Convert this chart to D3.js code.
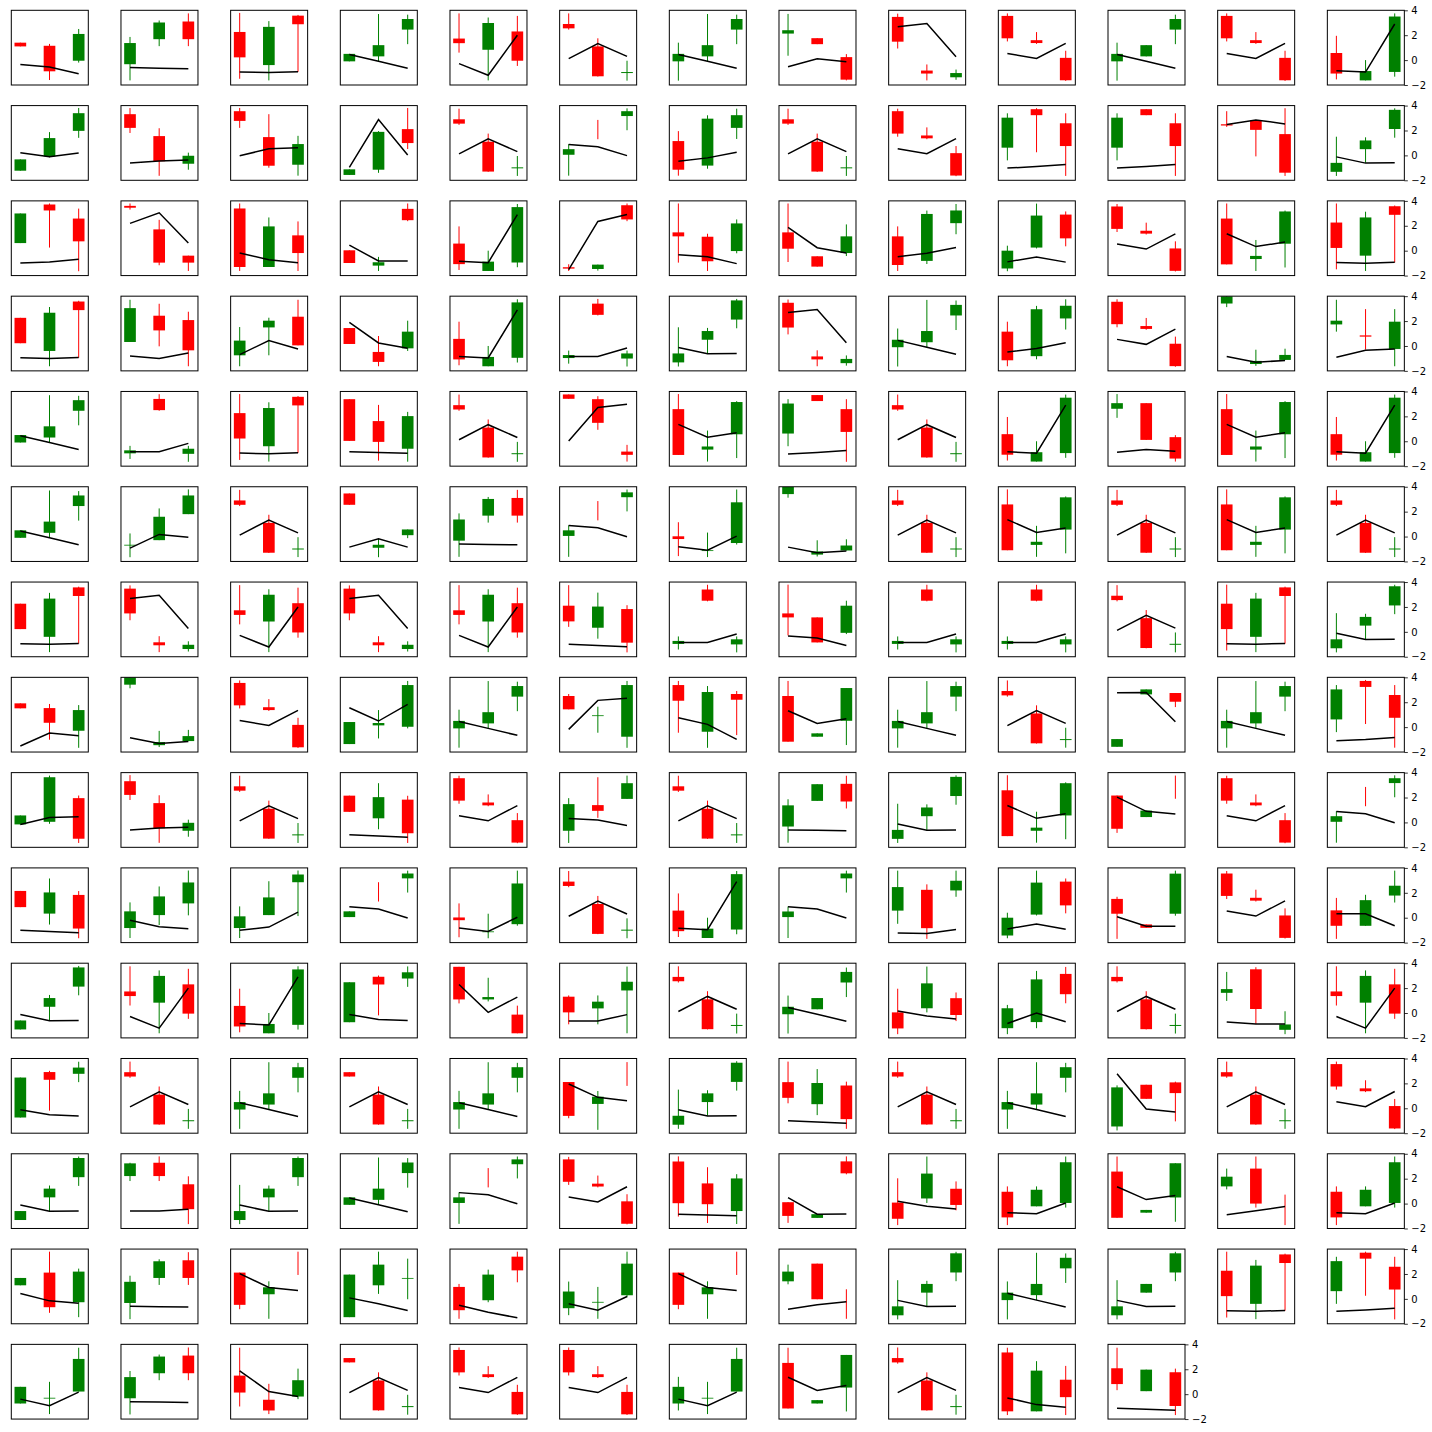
<!DOCTYPE html>
<html><head><meta charset="utf-8">
<script src="https://cdnjs.cloudflare.com/ajax/libs/d3/7.8.5/d3.min.js"></script>
<style>html,body{margin:0;padding:0;background:#fff;} svg{display:block;}</style>
</head><body>
<script>
// Each entry: [open, high, low, close] for candle at x=0,1,2 of each small panel (row-major, 13 per row)
const candle1 = [
[1.4,1.4,1.1,1.1],[-0.33,1.86,-1.63,1.37],[2.26,3.79,-1.5,0.22],[-0.1,0.5,-0.1,0.5],[1.73,3.75,0.6,1.36],[2.9,3.75,2.45,2.55],[-0.1,1.4,-1.65,0.5],[2.13,3.71,0.35,2.4],[3.47,3.73,0.93,1.48],[3.55,3.75,1.5,1.75],[-0.1,1.4,-1.65,0.5],[3.55,3.75,1.5,1.75],[0.57,1.95,-1.55,-1.08],
[-1.23,-0.32,-1.23,-0.32],[3.31,3.8,1.8,2.21],[3.55,3.81,2.21,2.77],[-1.57,-1.12,-1.57,-1.12],[2.9,3.75,2.45,2.55],[0.05,0.9,-1.63,0.5],[1.15,1.95,-1.63,-1.15],[2.9,3.75,2.45,2.55],[3.55,3.75,1.5,1.75],[0.62,3.38,-0.4,3.03],[0.62,3.38,-0.4,3.03],[2.5,3.55,2.29,2.4],[-1.32,1.5,-1.65,-0.6],
[0.61,2.99,0.61,2.99],[3.6,3.79,3.3,3.45],[3.39,3.79,-1.63,-1.31],[0.03,0.03,-0.99,-0.99],[0.57,1.95,-1.55,-1.08],[-1.33,-1.09,-1.63,-1.44],[1.47,3.79,-0.96,1.15],[1.47,3.79,-0.91,0.16],[1.15,1.95,-1.63,-1.15],[-1.43,0.4,-1.65,0.0],[3.55,3.75,1.5,1.75],[2.58,3.79,-1.1,-1.1],[2.26,3.79,-1.5,0.22],
[2.26,2.26,0.22,0.22],[0.32,3.71,0.32,3.04],[-0.75,1.52,-1.63,0.43],[1.44,1.44,0.16,0.16],[0.57,1.95,-1.55,-1.08],[-0.97,-0.37,-1.42,-0.73],[-1.32,1.5,-1.65,-0.6],[3.47,3.73,0.93,1.48],[-0.1,1.4,-1.65,0.5],[1.15,1.95,-1.63,-1.15],[3.55,3.75,1.5,1.75],[3.41,4.0,3.12,4.0],[1.73,3.71,1.15,2.03],
[-0.1,0.5,-0.1,0.5],[-0.97,-0.37,-1.42,-0.73],[2.26,3.79,-1.5,0.22],[3.38,3.38,0.03,0.03],[2.9,3.75,2.45,2.55],[3.76,3.76,3.41,3.41],[2.58,3.79,-1.1,-1.1],[0.62,3.38,-0.4,3.03],[2.9,3.75,2.45,2.55],[0.57,1.95,-1.55,-1.08],[2.61,3.79,1.88,3.06],[2.58,3.79,-1.1,-1.1],[0.57,1.95,-1.55,-1.08],
[-0.1,0.5,-0.1,0.5],[-0.72,0.25,-1.66,-0.66],[2.9,3.75,2.45,2.55],[3.46,3.46,2.55,2.55],[-0.33,1.86,-1.63,1.37],[0.05,0.9,-1.63,0.5],[0.02,1.15,-1.57,-0.2],[3.41,4.0,3.12,4.0],[2.9,3.75,2.45,2.55],[2.58,3.79,-1.1,-1.1],[2.9,3.75,2.45,2.55],[2.58,3.79,-1.1,-1.1],[2.9,3.75,2.45,2.55],
[2.26,2.26,0.22,0.22],[3.47,3.73,0.93,1.48],[1.73,3.75,0.6,1.36],[3.47,3.73,0.93,1.48],[1.73,3.75,0.6,1.36],[2.1,3.75,0.4,0.84],[-0.97,-0.37,-1.42,-0.73],[1.48,3.79,-0.29,1.16],[-0.97,-0.37,-1.42,-0.73],[-0.97,-0.37,-1.42,-0.73],[2.9,3.75,2.45,2.55],[2.26,3.79,-1.5,0.22],[-1.32,1.5,-1.65,-0.6],
[1.91,1.91,1.51,1.51],[3.41,4.0,3.12,4.0],[3.55,3.75,1.5,1.75],[-1.36,0.41,-1.36,0.41],[-0.1,1.4,-1.65,0.5],[2.5,2.66,1.43,1.43],[3.38,3.71,-0.45,2.12],[2.5,3.71,-1.17,-1.17],[-0.1,1.4,-1.65,0.5],[2.9,3.75,2.45,2.55],[-1.58,-0.96,-1.58,-0.96],[-0.1,1.4,-1.65,0.5],[0.62,3.38,-0.4,3.03],
[-0.16,0.56,-0.16,0.56],[3.31,3.8,1.8,2.21],[2.9,3.75,2.45,2.55],[2.15,2.15,0.85,0.85],[3.55,3.75,1.5,1.75],[-0.67,1.95,-1.65,1.47],[2.9,3.75,2.45,2.55],[-0.33,1.86,-1.63,1.37],[-1.32,1.5,-1.65,-0.6],[2.58,3.79,-1.1,-1.1],[2.16,2.16,-0.84,-0.51],[3.55,3.75,1.5,1.75],[0.05,0.9,-1.63,0.5],
[2.15,2.15,0.85,0.85],[-0.83,1.23,-1.63,0.51],[-0.83,0.91,-1.63,0.11],[0.05,0.51,0.05,0.51],[0.02,1.15,-1.57,-0.2],[2.9,3.75,2.45,2.55],[0.57,1.95,-1.55,-1.08],[0.05,0.9,-1.63,0.5],[0.57,3.78,-0.49,2.46],[-1.43,0.4,-1.65,0.0],[1.51,1.68,-1.7,0.32],[3.55,3.75,1.5,1.75],[0.59,1.59,-1.7,-0.65],
[-1.32,-0.6,-1.32,-0.6],[1.73,3.75,0.6,1.36],[0.57,1.95,-1.55,-1.08],[-0.74,2.47,-0.74,2.47],[3.71,3.71,0.77,1.09],[1.31,1.41,-0.91,0.05],[2.9,3.75,2.45,2.55],[-0.1,1.4,-1.65,0.5],[0.05,1.95,-1.7,-1.24],[-1.22,0.65,-1.7,0.38],[2.9,3.75,2.45,2.55],[1.62,3.3,0.97,1.92],[1.73,3.75,0.6,1.36],
[-0.74,2.47,-0.74,2.47],[2.9,3.75,2.45,2.55],[-0.1,1.4,-1.65,0.5],[2.9,2.9,2.55,2.55],[-0.1,1.4,-1.65,0.5],[2.11,2.11,-0.8,-0.61],[-1.32,1.5,-1.65,-0.6],[2.1,3.75,0.4,0.84],[2.9,3.75,2.45,2.55],[-0.1,1.4,-1.65,0.5],[-1.46,1.84,-1.78,1.68],[2.9,3.75,2.45,2.55],[3.55,3.75,1.5,1.75],
[-1.32,-0.6,-1.32,-0.6],[2.21,3.28,1.81,3.23],[-1.32,1.5,-1.65,-0.6],[-0.1,0.5,-0.1,0.5],[0.05,0.9,-1.63,0.5],[3.55,3.75,1.5,1.75],[3.38,3.79,-1.04,0.03],[0.11,0.11,-1.55,-0.99],[0.08,2.03,-1.73,-1.22],[0.95,1.38,-1.73,-1.11],[2.57,3.78,-1.14,-1.14],[1.38,2.81,1.14,2.16],[0.95,1.38,-1.73,-1.11],
[1.09,1.68,1.09,1.68],[-0.33,1.86,-1.63,1.37],[2.11,2.11,-0.83,-0.48],[-1.47,1.95,-1.47,1.95],[0.96,1.2,-1.6,-0.91],[-0.75,1.39,-1.31,0.59],[2.11,2.11,-0.83,-0.48],[1.41,2.75,1.17,2.19],[-1.32,1.5,-1.65,-0.6],[-0.1,1.4,-1.65,0.5],[-1.32,1.5,-1.65,-0.6],[2.26,3.79,-1.5,0.22],[0.62,3.38,-0.4,3.03],
[-0.75,0.59,-0.75,0.59],[-0.33,1.86,-1.63,1.37],[1.49,3.73,-0.99,0.13],[2.9,2.9,2.55,2.55],[3.55,3.75,1.5,1.75],[3.55,3.75,1.5,1.75],[-0.75,1.39,-1.31,0.59],[2.51,3.73,-1.15,-1.15],[2.9,3.75,2.45,2.55],[3.35,3.73,-1.68,-1.38],[2.08,3.73,0.32,0.81]
];
const candle2 = [
[1.15,1.3,-1.6,-0.9],[1.68,3.18,1.12,3.02],[-0.4,3.13,-1.63,2.67],[0.3,3.7,-0.1,1.2],[0.83,3.42,-1.63,2.98],[1.1,1.75,-1.32,-1.3],[0.3,3.7,-0.1,1.2],[1.76,1.76,1.28,1.28],[-0.84,-0.35,-1.63,-1.08],[1.6,2.25,1.3,1.37],[0.3,1.2,0.3,1.2],[1.6,2.25,1.3,1.37],[-1.63,0.0,-1.63,-0.88],
[-0.08,1.87,-0.16,1.39],[1.55,2.18,-1.64,-0.47],[1.47,3.31,-0.99,-0.83],[-1.15,1.95,-1.4,1.89],[1.1,1.75,-1.32,-1.3],[2.0,2.85,1.3,2.0],[-0.82,3.22,-1.07,2.95],[1.1,1.75,-1.32,-1.3],[1.6,2.25,1.3,1.37],[3.71,3.79,0.25,3.23],[3.71,3.71,3.23,3.23],[2.8,2.8,-0.08,2.05],[0.5,1.45,-0.6,1.2],
[3.71,3.79,0.25,3.23],[1.71,2.48,-1.17,-0.96],[-1.31,2.67,-1.31,1.95],[-1.2,-0.5,-1.63,-0.93],[-1.63,0.0,-1.63,-0.88],[-1.47,-1.12,-1.6,-1.12],[1.12,1.36,-1.63,-0.85],[-0.45,-0.45,-1.28,-1.28],[-0.82,3.22,-1.07,2.95],[0.25,3.78,0.18,2.82],[1.6,2.25,1.3,1.37],[-0.67,0.86,-1.63,-0.42],[-0.4,3.13,-1.63,2.67],
[-0.4,3.13,-1.63,2.67],[2.43,3.39,-0.03,1.25],[1.49,2.27,-0.75,2.03],[-0.48,0.8,-1.63,-1.28],[-1.63,0.0,-1.63,-0.88],[3.4,3.78,2.45,2.5],[0.5,1.45,-0.6,1.2],[-0.84,-0.35,-1.63,-1.08],[0.3,3.7,-0.1,1.2],[-0.82,3.22,-1.07,2.95],[1.6,2.25,1.3,1.37],[-1.45,-0.3,-1.6,-1.2],[0.85,2.96,-0.29,0.75],
[0.3,3.7,-0.1,1.2],[3.4,3.78,2.45,2.5],[-0.4,3.13,-1.63,2.67],[1.62,2.92,-1.56,-0.05],[1.1,1.75,-1.32,-1.3],[3.38,3.62,0.92,1.48],[-0.67,0.86,-1.63,-0.42],[3.71,3.71,3.23,3.23],[1.1,1.75,-1.32,-1.3],[-1.63,0.0,-1.63,-0.88],[3.06,3.06,0.11,0.11],[-0.67,0.86,-1.63,-0.42],[-1.63,0.0,-1.63,-0.88],
[0.3,3.7,-0.1,1.2],[-0.29,2.26,-0.29,1.59],[1.1,1.75,-1.32,-1.3],[-0.9,-0.18,-1.66,-0.66],[1.68,3.18,1.12,3.02],[2.0,2.85,1.3,2.0],[-1.13,0.32,-1.65,-1.1],[-1.45,-0.3,-1.6,-1.2],[1.1,1.75,-1.32,-1.3],[-0.67,0.86,-1.63,-0.42],[1.1,1.75,-1.32,-1.3],[-0.67,0.86,-1.63,-0.42],[1.1,1.75,-1.32,-1.3],
[-0.4,3.13,-1.63,2.67],[-0.84,-0.35,-1.63,-1.08],[0.83,3.42,-1.63,2.98],[-0.84,-0.35,-1.63,-1.08],[0.83,3.42,-1.63,2.98],[0.33,3.15,-0.55,2.03],[3.4,3.78,2.45,2.5],[1.16,1.16,-0.85,-0.85],[3.4,3.78,2.45,2.5],[3.4,3.78,2.45,2.5],[1.1,1.75,-1.32,-1.3],[-0.4,3.13,-1.63,2.67],[0.5,1.45,-0.6,1.2],
[1.53,1.86,-1.01,0.35],[-1.45,-0.3,-1.6,-1.2],[1.6,2.25,1.3,1.37],[0.14,1.37,-0.91,0.33],[0.3,3.7,-0.1,1.2],[0.89,1.64,-0.45,0.95],[-0.37,3.3,-1.66,2.82],[-0.77,-0.5,-0.77,-0.5],[0.3,3.7,-0.1,1.2],[1.1,1.75,-1.32,-1.3],[2.63,3.03,2.63,3.03],[0.3,3.7,-0.1,1.2],[3.71,3.79,0.25,3.23],
[0.05,3.76,-0.11,3.63],[1.55,2.18,-1.64,-0.47],[1.1,1.75,-1.32,-1.3],[0.33,3.15,-0.55,2.03],[1.6,2.25,1.3,1.37],[1.39,3.63,0.37,0.93],[1.1,1.75,-1.32,-1.3],[1.73,3.07,1.73,3.07],[0.5,1.45,-0.6,1.2],[-0.67,0.86,-1.63,-0.42],[0.43,0.95,0.43,0.95],[1.6,2.25,1.3,1.37],[2.0,2.85,1.3,2.0],
[0.33,3.15,-0.55,2.03],[0.21,2.51,-0.59,1.71],[0.21,2.93,0.21,1.63],[2.0,2.85,1.3,2.0],[-1.13,0.32,-1.65,-1.1],[1.1,1.75,-1.32,-1.3],[-1.63,0.0,-1.63,-0.88],[0.67,0.67,0.67,0.67],[2.24,2.68,-1.7,-0.84],[0.25,3.78,0.18,2.82],[-0.54,-0.54,-0.81,-0.81],[1.6,2.25,1.3,1.37],[-0.65,1.84,-0.65,1.41],
[0.5,1.45,-0.6,1.2],[0.83,3.42,-1.63,2.98],[-1.63,0.0,-1.63,-0.88],[2.91,3.01,-0.19,2.29],[1.09,2.83,0.93,1.28],[0.37,1.41,-0.91,0.91],[1.1,1.75,-1.32,-1.3],[0.3,1.2,0.3,1.2],[0.38,3.73,0.05,2.38],[-0.73,3.38,-1.22,2.7],[1.1,1.75,-1.32,-1.3],[3.51,3.68,-0.89,0.32],[0.83,3.42,-1.63,2.98],
[2.91,3.01,-0.19,2.29],[1.1,1.75,-1.32,-1.3],[0.3,3.7,-0.1,1.2],[1.1,1.75,-1.32,-1.3],[0.3,3.7,-0.1,1.2],[0.35,1.39,-1.73,0.93],[0.5,1.45,-0.6,1.2],[0.33,3.15,-0.55,2.03],[1.1,1.75,-1.32,-1.3],[0.3,3.7,-0.1,1.2],[1.89,1.89,0.76,0.76],[1.1,1.75,-1.32,-1.3],[1.6,2.25,1.3,1.37],
[0.5,1.45,-0.6,1.2],[3.28,3.79,1.81,2.21],[0.5,1.45,-0.6,1.2],[0.3,3.7,-0.1,1.2],[2.0,2.85,1.3,2.0],[1.6,2.25,1.3,1.37],[1.62,2.92,-1.56,-0.05],[-1.15,-0.85,-1.15,-0.85],[0.41,3.78,0.05,2.41],[-0.22,1.38,-0.22,1.11],[-0.73,-0.51,-0.73,-0.51],[2.81,3.78,-0.32,0.0],[-0.22,1.38,-0.22,1.11],
[2.11,3.79,-1.12,-0.67],[1.68,3.18,1.12,3.02],[0.37,1.41,-1.6,0.93],[1.09,3.79,0.4,2.75],[-0.11,2.35,-0.27,1.95],[-0.3,0.96,-1.6,-0.24],[0.37,1.41,-1.6,0.93],[2.83,2.83,-0.03,-0.03],[0.5,1.45,-0.6,1.2],[0.3,3.7,-0.1,1.2],[0.5,1.2,0.5,1.2],[-0.4,3.13,-1.63,2.67],[3.71,3.79,0.25,3.23],
[-0.35,0.99,-1.6,-0.29],[1.68,3.18,1.12,3.02],[-0.45,0.83,-1.6,-1.31],[1.1,1.75,-1.32,-1.3],[1.6,2.25,1.3,1.37],[1.6,2.25,1.3,1.37],[-0.35,0.99,-1.6,-0.29],[-0.75,-0.48,-0.75,-0.48],[1.1,1.75,-1.32,-1.3],[-1.38,2.65,-1.38,1.89],[0.24,1.97,0.24,1.97]
];
const candle3 = [
[-0.05,2.5,-0.2,2.1],[3.1,3.75,1.12,1.68],[3.57,3.63,-0.95,2.88],[2.45,3.65,1.28,3.3],[2.3,3.55,-0.47,-0.05],[-1.04,-0.05,-1.65,-0.96],[2.45,3.65,1.28,3.3],[0.24,0.48,-1.63,-1.57],[-1.38,-0.76,-1.58,-1.04],[0.18,0.75,-1.67,-1.62],[2.45,3.65,1.28,3.3],[0.18,0.75,-1.67,-1.62],[-0.95,3.75,-1.33,3.5],
[1.97,3.81,1.41,3.39],[-0.67,0.22,-1.15,-0.03],[-0.75,1.57,-1.63,0.91],[2.11,3.81,0.51,0.99],[-1.04,-0.05,-1.65,-0.96],[3.16,3.78,2.02,3.55],[2.21,3.75,1.32,3.23],[-1.04,-0.05,-1.65,-0.96],[0.18,0.75,-1.67,-1.62],[2.58,3.38,-1.65,0.75],[2.58,3.38,-1.65,0.75],[1.71,3.79,-1.65,-1.39],[2.12,3.78,1.42,3.66],
[2.58,3.38,-1.65,0.75],[-0.4,-0.4,-1.63,-0.96],[1.23,2.35,-1.63,-0.19],[3.36,3.79,2.37,2.45],[-0.95,3.75,-1.33,3.5],[3.65,3.79,2.37,2.51],[-0.03,2.51,-0.21,2.19],[-0.19,2.11,-0.43,1.15],[2.21,3.75,1.32,3.23],[2.9,3.15,0.35,0.99],[0.18,0.75,-1.67,-1.62],[0.56,3.22,-1.35,3.15],[3.57,3.63,-0.95,2.88],
[3.57,3.63,-0.95,2.88],[2.08,2.75,-1.63,-0.35],[2.35,3.71,0.05,0.05],[-0.19,2.03,-0.4,1.15],[-0.95,3.75,-1.33,3.5],[-1.01,-0.37,-1.65,-0.6],[2.12,3.78,1.42,3.66],[-1.38,-0.76,-1.58,-1.04],[2.45,3.65,1.28,3.3],[2.21,3.75,1.32,3.23],[0.18,0.75,-1.67,-1.62],[-1.12,-0.22,-1.12,-0.72],[-0.24,2.96,-1.63,1.95],
[2.45,3.65,1.28,3.3],[-1.01,-0.37,-1.65,-0.6],[3.57,3.63,-0.95,2.88],[-0.6,2.36,-1.64,2.02],[-1.04,-0.05,-1.65,-0.96],[-0.83,-0.29,-1.63,-1.09],[0.56,3.22,-1.35,3.15],[2.58,3.38,-1.65,0.75],[-1.04,-0.05,-1.65,-0.96],[-0.95,3.75,-1.33,3.5],[0.33,0.49,-1.63,-1.39],[0.56,3.22,-1.35,3.15],[-0.95,3.75,-1.33,3.5],
[2.45,3.65,1.28,3.3],[1.8,3.79,1.8,3.3],[-1.04,-0.05,-1.65,-0.96],[0.11,0.57,-0.13,0.57],[3.1,3.75,1.12,1.68],[3.16,3.78,2.02,3.55],[-0.52,3.78,-0.64,2.75],[-1.12,-0.22,-1.12,-0.72],[-1.04,-0.05,-1.65,-0.96],[0.56,3.22,-1.35,3.15],[-1.04,-0.05,-1.65,-0.96],[0.56,3.22,-1.35,3.15],[-1.04,-0.05,-1.65,-0.96],
[3.57,3.63,-0.95,2.88],[-1.38,-0.76,-1.58,-1.04],[2.3,3.55,-0.47,-0.05],[-1.38,-0.76,-1.58,-1.04],[2.3,3.55,-0.47,-0.05],[1.83,2.14,-1.65,-0.87],[-1.01,-0.37,-1.65,-0.6],[-0.08,2.5,-0.18,2.1],[-1.01,-0.37,-1.65,-0.6],[-1.01,-0.37,-1.65,-0.6],[-1.04,-0.05,-1.65,-0.96],[3.57,3.63,-0.95,2.88],[2.12,3.78,1.42,3.66],
[-0.29,1.77,-1.66,1.37],[-1.12,-0.22,-1.12,-0.72],[0.18,0.75,-1.67,-1.62],[0.03,3.71,-0.1,3.38],[2.45,3.65,1.28,3.3],[-0.77,3.71,-1.66,3.38],[2.66,2.9,-0.64,2.2],[0.51,3.14,-1.44,3.14],[2.45,3.65,1.28,3.3],[-1.04,-0.05,-1.65,-0.96],[2.74,2.74,1.61,2.04],[2.45,3.65,1.28,3.3],[2.58,3.38,-1.65,0.75],
[1.95,2.16,-1.65,-1.31],[-0.67,0.22,-1.15,-0.03],[-1.04,-0.05,-1.65,-0.96],[1.83,2.14,-1.65,-0.87],[0.18,0.75,-1.67,-1.62],[1.89,3.76,1.89,3.15],[-1.04,-0.05,-1.65,-0.96],[3.1,3.75,1.12,1.68],[2.12,3.78,1.42,3.66],[0.56,3.22,-1.35,3.15],[1.9,3.76,1.9,1.9],[0.18,0.75,-1.67,-1.62],[3.16,3.78,2.02,3.55],
[1.83,2.14,-1.65,-0.87],[1.15,3.79,0.19,2.83],[2.85,3.79,0.13,3.47],[3.16,3.78,2.02,3.55],[-0.52,3.78,-0.64,2.75],[-1.04,-0.05,-1.65,-0.96],[-0.95,3.75,-1.33,3.5],[3.16,3.78,2.02,3.55],[2.19,3.78,1.68,2.97],[2.9,3.15,0.35,0.99],[0.32,3.78,0.16,3.54],[0.18,0.75,-1.67,-1.62],[1.78,3.78,1.22,2.57],
[2.12,3.78,1.42,3.66],[2.3,3.55,-0.47,-0.05],[-0.95,3.75,-1.33,3.5],[2.77,3.74,2.1,3.27],[-0.13,0.59,-1.63,-1.63],[1.81,3.73,-1.63,2.51],[-1.04,-0.05,-1.65,-0.96],[2.45,3.65,1.28,3.3],[1.19,1.65,-0.65,-0.16],[3.14,3.7,0.78,1.51],[-1.04,-0.05,-1.65,-0.96],[-1.35,0.14,-1.7,-0.92],[2.3,3.55,-0.47,-0.05],
[2.77,3.74,2.1,3.27],[-1.04,-0.05,-1.65,-0.96],[2.45,3.65,1.28,3.3],[-1.04,-0.05,-1.65,-0.96],[2.45,3.65,1.28,3.3],[1.8,3.71,1.8,1.8],[2.12,3.78,1.42,3.66],[1.83,2.14,-1.65,-0.87],[-1.04,-0.05,-1.65,-0.96],[2.45,3.65,1.28,3.3],[2.08,2.14,-1.05,1.22],[-1.04,-0.05,-1.65,-0.96],[0.18,0.75,-1.67,-1.62],
[2.12,3.78,1.42,3.66],[1.55,2.19,-1.65,-0.45],[2.12,3.78,1.42,3.66],[2.45,3.65,1.28,3.3],[3.16,3.78,2.02,3.55],[0.18,0.75,-1.67,-1.62],[-0.6,2.36,-1.64,2.02],[3.39,3.79,2.35,2.43],[1.19,1.78,-0.54,-0.11],[0.05,3.78,-0.32,3.32],[0.49,3.24,-1.46,3.24],[0.72,0.72,-1.73,0.72],[0.05,3.78,-0.32,3.32],
[-0.27,2.43,-1.47,2.19],[3.1,3.75,1.12,1.68],[1.92,3.79,1.92,1.92],[1.62,3.23,-0.03,1.68],[3.39,3.79,1.33,2.29],[0.29,3.79,0.13,2.83],[1.92,3.79,1.92,1.92],[0.77,0.77,-1.6,0.77],[2.12,3.78,1.42,3.66],[2.45,3.65,1.28,3.3],[2.12,3.78,1.42,3.66],[3.57,3.63,-0.95,2.88],[2.58,3.38,-1.65,0.75],
[0.21,3.73,0.21,2.83],[3.1,3.75,1.12,1.68],[-0.19,2.05,-0.4,1.12],[-1.04,-0.05,-1.65,-0.96],[0.18,0.75,-1.67,-1.62],[0.18,0.75,-1.67,-1.62],[0.21,3.73,0.21,2.83],[0.53,3.15,-1.39,3.15],[-1.04,-0.05,-1.65,-0.96],[1.16,2.27,-1.68,-0.24],[1.76,2.05,-1.68,-0.95]
];
// Black line values at x = 0, 1, 2 of each panel
const lineVals = [
[-0.35,-0.56,-1.09],[-0.6,-0.65,-0.7],[-0.95,-1.0,-0.93],[0.45,-0.1,-0.66],[-0.28,-1.22,2.0],[0.12,1.33,0.3],[0.45,-0.1,-0.66],[-0.53,0.11,-0.13],[2.68,2.93,0.26],[0.53,0.13,1.35],[0.45,-0.1,-0.66],[0.53,0.13,1.35],[-0.85,-0.96,2.9],
[0.21,-0.11,0.19],[-0.61,-0.45,-0.38],[-0.03,0.53,0.61],[-0.96,2.88,0.03],[0.12,1.33,0.3],[0.88,0.7,-0.02],[-0.48,-0.2,0.25],[0.12,1.33,0.3],[0.53,0.13,1.35],[-1.02,-0.9,-0.74],[-1.02,-0.9,-0.74],[2.48,2.85,2.53],[-0.12,-0.62,-0.6],
[-0.99,-0.91,-0.69],[2.19,3.04,0.61],[-0.19,-0.72,-0.96],[0.45,-0.83,-0.83],[-0.85,-0.96,2.9],[-1.52,2.35,2.91],[-0.32,-0.48,-1.04],[1.87,0.24,-0.19],[-0.48,-0.2,0.25],[-0.9,-0.5,-0.92],[0.53,0.13,1.35],[1.36,0.33,0.69],[-0.95,-1.0,-0.93],
[-0.95,-1.0,-0.93],[-0.8,-1.01,-0.56],[-0.69,0.43,-0.24],[1.89,0.24,-0.19],[-0.85,-0.96,2.9],[-0.85,-0.85,-0.17],[-0.12,-0.62,-0.6],[2.68,2.93,0.26],[0.45,-0.1,-0.66],[-0.48,-0.2,0.25],[0.53,0.13,1.35],[-0.85,-1.31,-1.16],[-0.91,-0.35,-0.24],
[0.45,-0.1,-0.66],[-0.85,-0.85,-0.17],[-0.95,-1.0,-0.93],[-0.85,-0.91,-0.97],[0.12,1.33,0.3],[0.03,2.71,2.98],[1.36,0.33,0.69],[-1.02,-0.9,-0.74],[0.12,1.33,0.3],[-0.85,-0.96,2.9],[-0.88,-0.66,-0.8],[1.36,0.33,0.69],[-0.85,-0.96,2.9],
[0.45,-0.1,-0.66],[-0.93,0.17,-0.05],[0.12,1.33,0.3],[-0.85,-0.18,-0.85],[-0.6,-0.63,-0.66],[0.88,0.7,-0.02],[-0.82,-1.1,0.04],[-0.85,-1.31,-1.16],[0.12,1.33,0.3],[1.36,0.33,0.69],[0.12,1.33,0.3],[1.36,0.33,0.69],[0.12,1.33,0.3],
[-0.95,-1.0,-0.93],[2.68,2.93,0.26],[-0.28,-1.22,2.0],[2.68,2.93,0.26],[-0.28,-1.22,2.0],[-1.0,-1.1,-1.2],[-0.85,-0.85,-0.17],[-0.34,-0.5,-1.09],[-0.85,-0.85,-0.17],[-0.85,-0.85,-0.17],[0.12,1.33,0.3],[-0.95,-1.0,-0.93],[-0.12,-0.62,-0.6],
[-1.52,-0.48,-0.69],[-0.85,-1.31,-1.16],[0.53,0.13,1.35],[1.56,0.49,1.83],[0.45,-0.1,-0.66],[-0.18,2.15,2.31],[0.76,0.22,-0.99],[1.32,0.3,0.68],[0.45,-0.1,-0.66],[0.12,1.33,0.3],[2.77,2.79,0.43],[0.45,-0.1,-0.66],[-1.09,-0.99,-0.83],
[-0.16,0.4,0.45],[-0.61,-0.45,-0.38],[0.12,1.33,0.3],[-1.0,-1.1,-1.2],[0.53,0.13,1.35],[0.32,0.19,-0.24],[0.12,1.33,0.3],[-0.6,-0.63,-0.66],[-0.12,-0.62,-0.6],[1.36,0.33,0.69],[2.03,0.89,0.68],[0.53,0.13,1.35],[0.88,0.7,-0.02],
[-1.0,-1.1,-1.2],[-0.21,-0.72,-0.88],[-1.01,-0.75,0.45],[0.88,0.7,-0.02],[-0.82,-1.1,0.04],[0.12,1.33,0.3],[-0.85,-0.96,2.9],[0.88,0.7,-0.02],[-1.22,-1.27,-0.95],[-0.9,-0.5,-0.92],[0.08,-0.68,-0.68],[0.53,0.13,1.35],[0.32,0.32,-0.65],
[-0.12,-0.62,-0.6],[-0.28,-1.22,2.0],[-0.85,-0.96,2.9],[-0.12,-0.52,-0.61],[2.29,0.05,1.28],[-0.64,-0.64,-0.13],[0.12,1.33,0.3],[0.45,-0.1,-0.66],[0.16,-0.24,-0.49],[-0.84,0.0,-0.7],[0.12,1.33,0.3],[-0.73,-0.89,-0.89],[-0.28,-1.22,2.0],
[-0.12,-0.52,-0.61],[0.12,1.33,0.3],[0.45,-0.1,-0.66],[0.12,1.33,0.3],[0.45,-0.1,-0.66],[1.95,0.88,0.61],[-0.12,-0.62,-0.6],[-1.0,-1.1,-1.2],[0.12,1.33,0.3],[0.45,-0.1,-0.66],[2.78,-0.05,-0.3],[0.12,1.33,0.3],[0.53,0.13,1.35],
[-0.12,-0.62,-0.6],[-0.59,-0.59,-0.45],[-0.12,-0.62,-0.6],[0.45,-0.1,-0.66],[0.88,0.7,-0.02],[0.53,0.13,1.35],[-0.85,-0.91,-0.97],[0.48,-0.85,-0.83],[0.19,-0.22,-0.43],[-0.73,-0.81,0.05],[1.35,0.32,0.65],[-0.89,-0.57,-0.24],[-0.73,-0.81,0.05],
[0.43,-0.16,-0.35],[-0.6,-0.63,-0.66],[2.03,0.91,0.67],[0.08,-0.4,-0.93],[-0.51,-1.07,-1.52],[-0.4,-0.91,0.19],[2.03,0.91,0.67],[-0.83,-0.48,-0.24],[-0.12,-0.62,-0.6],[0.45,-0.1,-0.66],[-0.12,-0.62,-0.6],[-0.95,-1.0,-0.93],[-1.0,-0.9,-0.75],
[-0.4,-0.93,0.16],[-0.6,-0.63,-0.66],[1.87,0.21,-0.19],[0.12,1.33,0.3],[0.53,0.13,1.35],[0.53,0.13,1.35],[-0.4,-0.93,0.16],[1.36,0.29,0.69],[0.12,1.33,0.3],[-0.3,-0.84,-1.05],[-1.14,-1.22,-1.3]
];
const yTickValues = [-2, 0, 2, 4];

const nCols = 13, nRows = 15;
const panelW = 77, panelH = 74.7;
const svg = d3.select("body").append("svg").attr("width", 1432).attr("height", 1432)
  .style("font-family", "'DejaVu Sans', sans-serif");

const gx = d3.scaleLinear().domain([0, nCols - 1]).range([11.3, 11.3 + 12 * 109.67]);
const gy = d3.scaleLinear().domain([0, nRows - 1]).range([10.3, 10.3 + 14 * 95.29]);
const x = d3.scaleLinear().domain([-0.31, 2.33]).range([0, panelW]);
const y = d3.scaleLinear().domain([-2, 4]).range([panelH, 0]);
const bodyW = x(0.4) - x(0);
const line = d3.line().x((d, i) => x(i)).y(d => y(d));

const nPanels = candle1.length;
for (let p = 0; p < nPanels; p++) {
  const row = Math.floor(p / nCols), col = p % nCols;
  const g = svg.append("g").attr("transform", `translate(${gx(col)},${gy(row)})`);
  const clipId = "clip" + p;
  g.append("clipPath").attr("id", clipId).append("rect")
    .attr("width", panelW).attr("height", panelH);
  const inner = g.append("g").attr("clip-path", `url(#${clipId})`);
  const candles = [candle1[p], candle2[p], candle3[p]].map((c, i) => ({
    i, o: c[0], h: c[1], l: c[2], c: c[3], up: c[3] > c[0]
  }));
  inner.selectAll("line.wick").data(candles).join("line")
    .attr("class", "wick")
    .attr("x1", d => x(d.i)).attr("x2", d => x(d.i))
    .attr("y1", d => y(d.h)).attr("y2", d => y(d.l))
    .attr("stroke", d => d.up ? "green" : "red").attr("stroke-width", 1);
  inner.selectAll("rect.body").data(candles.filter(d => d.o !== d.c)).join("rect")
    .attr("class", "body")
    .attr("x", d => x(d.i) - bodyW / 2)
    .attr("width", bodyW)
    .attr("y", d => y(Math.max(d.o, d.c)))
    .attr("height", d => Math.max(0.8, Math.abs(y(d.o) - y(d.c))))
    .attr("fill", d => d.up ? "green" : "red");
  inner.append("path").datum(lineVals[p])
    .attr("d", line).attr("fill", "none")
    .attr("stroke", "black").attr("stroke-width", 1.5);
  g.append("rect").attr("width", panelW).attr("height", panelH)
    .attr("fill", "none").attr("stroke", "black").attr("stroke-width", 1);
  if (col === nCols - 1 || p === nPanels - 1) {
    const ax = g.append("g").attr("transform", `translate(${panelW},0)`)
      .call(d3.axisRight(y).tickValues(yTickValues).tickSize(3.5).tickPadding(3.5)
        .tickFormat(d => d < 0 ? "\u2212" + Math.abs(d) : String(d)));
    ax.select(".domain").remove();
    ax.selectAll("text").attr("font-size", 10).attr("fill", "black")
      .attr("font-family", "'DejaVu Sans', sans-serif");
    ax.selectAll("line").attr("stroke", "black").attr("stroke-width", 0.8);
  }
}
</script>
</body></html>
